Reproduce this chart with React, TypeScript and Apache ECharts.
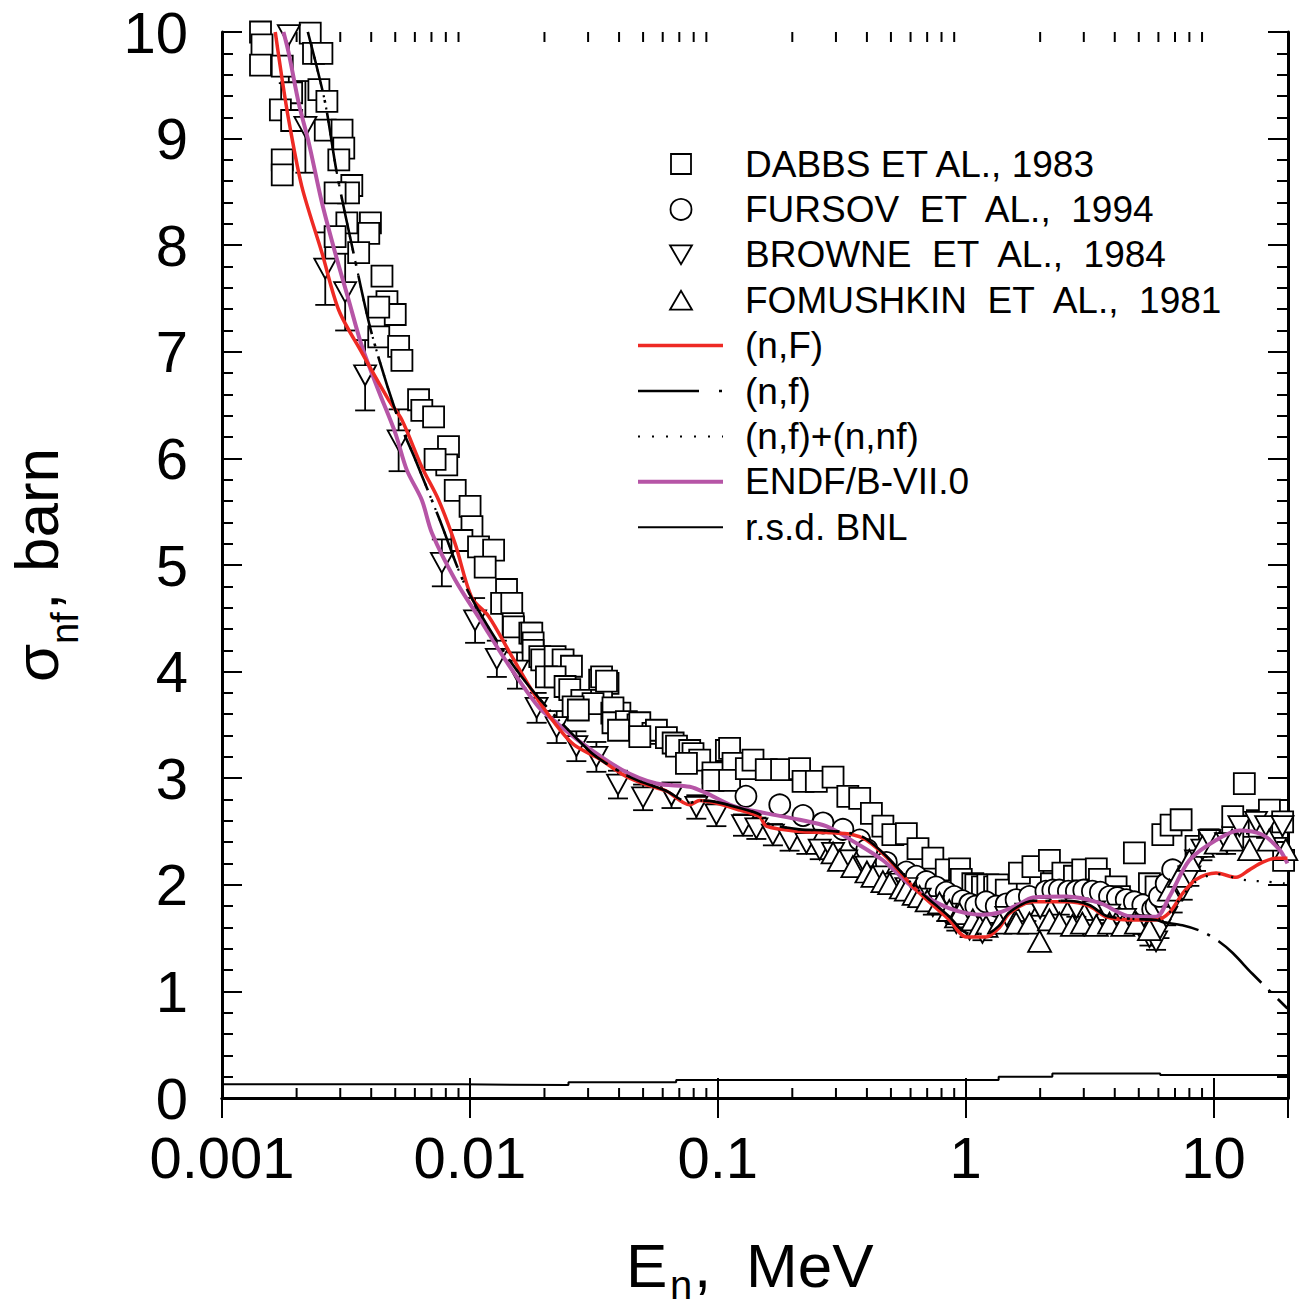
import React, { useEffect, useRef } from "react";
import * as echarts from "echarts";

const FONT = '"Liberation Sans", Arial, Helvetica, sans-serif';

// Axis ranges
const energyMin = 0.001;
const energyMax = 20;
const decadeLabels = ["0.001", "0.01", "0.1", "1", "10"];
const sigmaMin = 0;
const sigmaMax = 10;
const sigmaStep = 1;

// Experimental data: [E (MeV), sigma (barn)]
const dabbs: number[][] = [
  [0.00143, 10.0], [0.00145, 9.88], [0.00227, 9.99], [0.00234, 9.8], [0.00253, 9.8],
  [0.00143, 9.69], [0.00175, 9.68], [0.00246, 9.46], [0.00265, 9.35], [0.00191, 9.43],
  [0.00172, 9.27], [0.00191, 9.17], [0.00261, 9.08], [0.00305, 9.08], [0.0031, 8.91],
  [0.00296, 8.8], [0.00175, 8.8], [0.00175, 8.66], [0.00334, 8.56], [0.00324, 8.49],
  [0.00286, 8.49], [0.00397, 8.21], [0.00391, 8.11], [0.00319, 8.21], [0.00286, 8.08],
  [0.00442, 7.71], [0.00356, 7.93], [0.00463, 7.47], [0.005, 7.35], [0.00429, 7.42],
  [0.00429, 7.14], [0.00516, 7.05], [0.00532, 6.92], [0.00621, 6.55], [0.0064, 6.45],
  [0.00714, 6.39], [0.0082, 6.11], [0.00807, 5.94], [0.00724, 5.99], [0.00873, 5.7],
  [0.01002, 5.55], [0.0102, 5.36], [0.00929, 5.23], [0.01084, 5.17], [0.01247, 5.14],
  [0.01153, 4.98], [0.01406, 4.77], [0.01343, 4.64], [0.01476, 4.64], [0.01495, 4.45],
  [0.015, 4.42], [0.01746, 4.36], [0.01778, 4.36], [0.018, 4.27], [0.018, 4.2],
  [0.01915, 4.14], [0.0195, 4.11], [0.02208, 4.14], [0.02378, 4.11], [0.0257, 4.05],
  [0.02037, 3.95], [0.02208, 3.95], [0.0334, 3.92], [0.034, 3.95], [0.0361, 3.89],
  [0.02422, 3.86], [0.0253, 3.83], [0.0283, 3.73], [0.034, 3.73], [0.0314, 3.7],
  [0.0261, 3.67], [0.0274, 3.64], [0.0374, 3.61], [0.0403, 3.61], [0.0356, 3.91],
  [0.0378, 3.66], [0.0378, 3.52], [0.0428, 3.53], [0.0477, 3.5], [0.0485, 3.52],
  [0.0398, 3.45], [0.0548, 3.42], [0.0566, 3.45], [0.0485, 3.39], [0.0621, 3.38],
  [0.0661, 3.33], [0.0682, 3.3], [0.0771, 3.26], [0.0795, 3.23], [0.0846, 3.17],
  [0.0748, 3.14], [0.0957, 3.05], [0.0957, 2.98], [0.1084, 3.26], [0.1117, 3.28],
  [0.1153, 3.14], [0.1117, 2.98], [0.1305, 3.09], [0.1388, 3.17], [0.157, 3.08],
  [0.181, 3.08], [0.214, 3.09], [0.221, 2.97], [0.25, 2.97], [0.292, 3.01],
  [0.335, 2.83], [0.374, 2.81], [0.417, 2.67], [0.464, 2.55], [0.509, 2.47],
  [0.577, 2.48], [0.643, 2.34], [0.738, 2.25], [0.836, 2.14], [0.946, 2.15],
  [0.961, 2.05], [1.07, 2.01], [1.1, 2.0], [1.17, 1.98], [1.23, 2.0],
  [1.31, 1.98], [1.35, 2.0], [1.46, 1.95], [1.65, 2.11], [1.87, 2.17],
  [2.18, 2.23], [2.22, 2.01], [2.47, 2.11], [2.75, 2.08], [2.97, 2.14],
  [3.37, 2.15], [3.47, 2.05], [4.05, 1.98], [4.18, 1.89], [4.8, 2.3],
  [5.52, 2.01], [5.87, 1.98], [6.25, 2.47], [6.75, 2.56], [7.41, 2.61],
  [8.51, 2.36], [9.64, 2.42], [11.97, 2.45], [11.97, 2.64], [13.33, 2.95],
  [15.31, 2.55], [16.83, 2.7], [19.03, 2.59], [19.2, 2.23],
];

const fursov: number[][] = [
  [0.13, 2.83], [0.178, 2.75], [0.221, 2.65], [0.266, 2.58], [0.32, 2.52],
  [0.374, 2.42], [0.4, 2.33], [0.479, 2.21], [0.577, 2.12], [0.633, 2.08],
  [0.695, 2.03], [0.76, 1.98], [0.836, 1.93], [0.9, 1.89], [0.973, 1.85],
  [1.04, 1.82], [1.1, 1.8], [1.21, 1.84], [1.33, 1.8], [1.46, 1.82],
  [1.6, 1.86], [1.81, 1.89], [2.11, 1.94], [2.25, 1.95], [2.39, 1.95],
  [2.6, 1.94], [2.8, 1.94], [3.0, 1.95], [3.25, 1.94], [3.5, 1.93],
  [3.81, 1.89], [4.1, 1.88], [4.45, 1.86], [4.8, 1.84], [5.19, 1.81],
  [5.69, 1.77], [5.87, 1.8], [6.06, 1.89], [6.45, 2.01], [6.85, 2.14],
];

// [E (MeV), sigma (barn), uncertainty (barn)]
const browne: number[][] = [
  [0.00186, 9.97, 0.45], [0.00217, 9.11, 0.43], [0.00261, 7.78, 0.34], [0.00314, 7.56, 0.36],
  [0.00378, 6.78, 0.33], [0.00516, 6.17, 0.29], [0.00771, 5.02, 0.22], [0.0105, 4.48, 0.21],
  [0.01285, 4.12, 0.17], [0.0155, 4.01, 0.17], [0.0186, 3.66, 0.14], [0.0224, 3.48, 0.15],
  [0.0269, 3.3, 0.14], [0.0324, 3.2, 0.14], [0.0396, 2.94, 0.13], [0.05, 2.82, 0.12],
  [0.0651, 2.84, 0.12], [0.082, 2.73, 0.11], [0.0988, 2.66, 0.11], [0.1265, 2.56, 0.1],
  [0.1432, 2.53, 0.1], [0.167, 2.47, 0.1], [0.195, 2.42, 0.1], [0.228, 2.39, 0.1],
  [0.258, 2.33, 0.09], [0.292, 2.3, 0.09], [0.33, 2.23, 0.09], [0.398, 2.17, 0.09],
  [0.45, 2.08, 0.09], [0.509, 2.01, 0.08], [0.577, 1.97, 0.08], [0.653, 1.87, 0.08],
  [0.738, 1.8, 0.08], [0.836, 1.73, 0.07], [0.918, 1.64, 0.07], [1.038, 1.58, 0.07],
  [1.17, 1.55, 0.07], [1.46, 1.7, 0.07], [1.76, 1.73, 0.07], [2.0, 1.78, 0.07],
  [2.4, 1.8, 0.08], [2.8, 1.78, 0.08], [3.3, 1.75, 0.08], [3.8, 1.72, 0.08],
  [4.4, 1.68, 0.08], [5.0, 1.62, 0.08], [5.52, 1.51, 0.08], [5.87, 1.47, 0.08],
  [6.06, 1.58, 0.08], [6.45, 1.7, 0.08], [6.85, 1.83, 0.09], [7.52, 1.95, 0.09],
  [8.0, 2.08, 0.09], [8.51, 2.23, 0.1], [9.03, 2.33, 0.1], [9.64, 2.42, 0.1],
  [11.25, 2.39, 0.1], [12.73, 2.55, 0.1], [14.86, 2.59, 0.11], [16.32, 2.55, 0.11],
  [19.0, 2.55, 0.11],
];

const fomushkin: number[][] = [
  [0.292, 2.3], [0.31, 2.23], [0.351, 2.17], [0.4, 2.12], [0.423, 2.08],
  [0.464, 2.03], [0.494, 2.01], [0.55, 1.97], [0.577, 1.95], [0.62, 1.91],
  [0.653, 1.89], [0.7, 1.85], [0.785, 1.83], [0.86, 1.76], [0.92, 1.7],
  [0.946, 1.73], [1.07, 1.67], [1.14, 1.61], [1.21, 1.61], [1.37, 1.64],
  [1.6, 1.64], [1.81, 1.64], [1.99, 1.47], [2.18, 1.67], [2.39, 1.64],
  [2.7, 1.62], [2.96, 1.64], [3.37, 1.62], [3.81, 1.64], [4.31, 1.62],
  [4.89, 1.64], [5.52, 1.58], [6.65, 1.95], [7.29, 2.08], [8.0, 2.23],
  [9.03, 2.36], [10.26, 2.39], [11.9, 2.42], [14.0, 2.33], [16.8, 2.42],
  [19.6, 2.33],
];

// Evaluated curves: [E (MeV), sigma (barn)]
const nFCurve: number[][] = [
  [0.00164, 10.0], [0.00175, 9.55], [0.00186, 9.17], [0.0021, 8.55], [0.00253, 7.93],
  [0.00296, 7.39], [0.00367, 6.99], [0.0047, 6.55], [0.00532, 6.36], [0.0064, 5.92],
  [0.00748, 5.61], [0.00872, 5.2], [0.0102, 4.69], [0.0119, 4.52], [0.0148, 4.14],
  [0.0189, 3.73], [0.0258, 3.33], [0.0334, 3.18], [0.041, 3.04], [0.0485, 2.96],
  [0.0566, 2.91], [0.0621, 2.88], [0.0771, 2.75], [0.0846, 2.79], [0.097, 2.77],
  [0.1047, 2.75], [0.1228, 2.7], [0.1476, 2.64], [0.157, 2.55], [0.214, 2.5],
  [0.274, 2.49], [0.351, 2.47], [0.398, 2.42], [0.479, 2.26], [0.633, 1.95],
  [0.861, 1.67], [1.007, 1.51], [1.21, 1.51], [1.37, 1.6], [1.5, 1.73],
  [1.87, 1.84], [2.55, 1.84], [3.16, 1.8], [3.69, 1.7], [4.71, 1.67],
  [5.87, 1.67], [6.65, 1.74], [7.52, 1.92], [8.51, 2.05], [10.26, 2.11],
  [12.35, 2.07], [13.97, 2.14], [15.76, 2.21], [17.91, 2.25], [19.9, 2.25],
];

// (n,f) and (n,f)+(n,nf) coincide below the second-chance threshold
const nfCommon: number[][] = [
  [0.00222, 10.0], [0.0026, 9.35], [0.00291, 8.67], [0.00345, 7.85], [0.00403, 7.16],
  [0.00516, 6.36], [0.006, 6.0], [0.00748, 5.45], [0.0099, 4.74], [0.0162, 3.95],
  [0.0302, 3.26], [0.041, 3.05], [0.0485, 2.97], [0.0621, 2.88], [0.0771, 2.77],
  [0.0846, 2.79], [0.097, 2.78], [0.1228, 2.72], [0.1476, 2.66], [0.157, 2.58],
  [0.214, 2.52], [0.274, 2.51], [0.351, 2.48], [0.398, 2.43], [0.479, 2.27],
  [0.633, 1.97], [0.861, 1.7], [1.007, 1.55], [1.21, 1.54], [1.37, 1.62],
  [1.5, 1.74], [1.87, 1.85], [2.55, 1.85], [3.16, 1.81], [3.69, 1.71],
  [4.71, 1.68], [5.87, 1.67],
];
const nfTail: number[][] = [
  [6.25, 1.65], [7.5, 1.62], [9.03, 1.56], [10.5, 1.47], [11.97, 1.36], [14.3, 1.17], [19.9, 0.84],
];
const nfNnfTail: number[][] = [
  [6.65, 1.74], [7.52, 1.9], [8.51, 2.03], [10.26, 2.1], [11.25, 2.09], [12.35, 2.06],
  [14.0, 2.04], [16.3, 2.03], [19.9, 2.01],
];

const endfCurve: number[][] = [
  [0.00177, 10.0], [0.00186, 9.8], [0.00204, 9.33], [0.00224, 8.96], [0.00253, 8.4],
  [0.00286, 7.93], [0.00324, 7.49], [0.00367, 7.05], [0.00429, 6.63], [0.005, 6.24],
  [0.00557, 5.89], [0.0064, 5.61], [0.00703, 5.3], [0.00873, 4.86], [0.0112, 4.46],
  [0.0139, 4.11], [0.0189, 3.67], [0.0224, 3.52], [0.0283, 3.33], [0.041, 3.08],
  [0.0566, 2.95], [0.0771, 2.92], [0.09, 2.86], [0.1153, 2.74], [0.157, 2.67],
  [0.214, 2.61], [0.274, 2.55], [0.351, 2.41], [0.464, 2.23], [0.633, 1.95],
  [0.861, 1.78], [1.17, 1.72], [1.37, 1.74], [1.65, 1.82], [1.87, 1.88],
  [2.55, 1.89], [3.47, 1.83], [4.71, 1.7], [5.87, 1.7], [6.65, 1.89],
  [8.0, 2.23], [10.26, 2.42], [12.73, 2.51], [15.76, 2.47], [18.47, 2.33],
  [19.9, 2.2],
];

// Relative standard deviation (barn scale), held constant over each energy group
const rsdBnl: number[][] = [
  [0.001, 0.128], [0.0093, 0.122], [0.025, 0.147], [0.068, 0.169],
  [1.36, 0.2], [2.24, 0.23], [6.1, 0.216], [20, 0.216],
];

const legendLabels = [
  "DABBS ET AL., 1983",
  "FURSOV  ET  AL.,  1994",
  "BROWNE  ET  AL.,  1984",
  "FOMUSHKIN  ET  AL.,  1981",
  "(n,F)",
  "(n,f)",
  "(n,f)+(n,nf)",
  "ENDF/B-VII.0",
  "r.s.d. BNL",
];

const RED = "#ee2a24";
const PURPLE = "#b655a6";
const NF_DASH = [60, 10, 3, 10];
const DOT_DASH = [2, 11];

function minorTickValues(): number[][] {
  const out: number[][] = [];
  for (let p = -3; p <= 1; p++) {
    for (let m = 2; m <= 9; m++) {
      const v = m * Math.pow(10, p);
      if (v < energyMax) out.push([v, sigmaMin]);
    }
  }
  return out;
}

function formatDecade(v: number): string {
  const l = Math.log10(v);
  const r = Math.round(l);
  if (Math.abs(l - r) > 1e-6) return "";
  const idx = r + 3;
  return idx >= 0 && idx < decadeLabels.length ? decadeLabels[idx] : "";
}

function buildLegend(): any[] {
  const rowY0 = 164;
  const rowStep = 45.4;
  const symX = 681;
  const lineX1 = 638;
  const lineX2 = 723;
  const textX = 745;
  const els: any[] = [];
  const stroke = { stroke: "#000", lineWidth: 1.8, fill: "#fff" };
  legendLabels.forEach((label, i) => {
    const y = rowY0 + i * rowStep;
    els.push({
      type: "text",
      x: textX,
      y: y,
      style: { text: label, font: `37px ${FONT}`, fill: "#000", align: "left", verticalAlign: "middle" },
    });
    if (i === 0) {
      els.push({ type: "rect", shape: { x: symX - 10, y: y - 10, width: 20, height: 20 }, style: stroke });
    } else if (i === 1) {
      els.push({ type: "circle", shape: { cx: symX, cy: y, r: 10.5 }, style: stroke });
    } else if (i === 2) {
      els.push({ type: "polygon", shape: { points: [[symX - 11, y - 9.5], [symX + 11, y - 9.5], [symX, y + 9.5]] }, style: stroke });
    } else if (i === 3) {
      els.push({ type: "polygon", shape: { points: [[symX - 11, y + 9.5], [symX + 11, y + 9.5], [symX, y - 9.5]] }, style: stroke });
    } else {
      const styles: any[] = [
        { stroke: RED, lineWidth: 3.5 },
        { stroke: "#000", lineWidth: 2.5, lineDash: [61, 20, 3, 30] },
        { stroke: "#000", lineWidth: 2, lineDash: [2, 12] },
        { stroke: PURPLE, lineWidth: 4 },
        { stroke: "#000", lineWidth: 2 },
      ];
      els.push({ type: "line", shape: { x1: lineX1, y1: y, x2: lineX2, y2: y }, style: styles[i - 4] });
    }
  });
  return els;
}

function buildTitles(): any[] {
  const txt = (text: string, x: number, y: number, size: number) => ({
    type: "text",
    x,
    y,
    style: { text, font: `${size}px ${FONT}`, fill: "#000", align: "left", verticalAlign: "middle" },
  });
  // x title: baseline near 1287, subscript baseline near 1300
  const xTitle = {
    type: "group",
    children: [
      txt("E", 626, 1265, 62),
      txt("n", 670, 1285, 40),
      txt(",", 694, 1265, 62),
      txt("MeV", 746, 1265, 62),
    ],
  };
  // y title drawn along the vertical, reading upward
  const yTitle = {
    type: "group",
    x: 0,
    y: 682,
    rotation: Math.PI / 2,
    children: [
      txt("\u03c3", 0, 36, 62),
      txt("nf", 38, 65, 38),
      txt(",", 72, 36, 62),
      txt("barn", 110, 36, 62),
    ],
  };
  return [xTitle, yTitle];
}

export default function App() {
  const ref = useRef<HTMLDivElement>(null);
  useEffect(() => {
    if (!ref.current) return;
    const chart = echarts.init(ref.current, undefined, { renderer: "svg" });
    const axisLine = { show: true, lineStyle: { color: "#000", width: 3 } };
    const tick = { show: true, inside: true, length: 20, lineStyle: { color: "#000", width: 2 } };
    const minorY = { show: true, splitNumber: 5, length: 11, lineStyle: { color: "#000", width: 2 } };
    const labelFont = { fontSize: 58, fontFamily: FONT, color: "#000" };
    const scatterBase = {
      type: "scatter",
      xAxisIndex: 0,
      yAxisIndex: 0,
      emphasis: { disabled: true },
      itemStyle: { color: "#fff", borderColor: "#000", borderWidth: 1.8, opacity: 1 },
      z: 2,
    };
    const lineBase = {
      type: "line",
      xAxisIndex: 0,
      yAxisIndex: 0,
      showSymbol: false,
      symbol: "none",
      emphasis: { disabled: true },
      smooth: 0.3,
      z: 4,
    };
    const option: any = {
      animation: false,
      backgroundColor: "#fff",
      grid: { left: 222, right: 12, top: 32, bottom: 208, containLabel: false },
      xAxis: [
        {
          type: "log",
          logBase: 10,
          min: energyMin,
          max: energyMax,
          position: "bottom",
          axisLine,
          axisTick: tick,
          splitLine: { show: false },
          axisLabel: { ...labelFont, margin: 30, formatter: formatDecade, showMaxLabel: false },
        },
        {
          type: "log",
          logBase: 10,
          min: energyMin,
          max: energyMax,
          position: "top",
          axisLine,
          axisTick: tick,
          splitLine: { show: false },
          axisLabel: { show: false },
        },
      ],
      yAxis: [
        {
          type: "value",
          min: sigmaMin,
          max: sigmaMax,
          interval: sigmaStep,
          position: "left",
          axisLine,
          axisTick: tick,
          minorTick: minorY,
          splitLine: { show: false },
          axisLabel: { ...labelFont, margin: 34 },
        },
        {
          type: "value",
          min: sigmaMin,
          max: sigmaMax,
          interval: sigmaStep,
          position: "right",
          axisLine,
          axisTick: tick,
          minorTick: minorY,
          splitLine: { show: false },
          axisLabel: { show: false },
        },
      ],
      series: [
        {
          // minor energy ticks (2..9 per decade) on bottom and top frame
          type: "custom",
          xAxisIndex: 0,
          yAxisIndex: 0,
          silent: true,
          clip: false,
          z: 5,
          data: minorTickValues(),
          encode: { x: 0, y: 1 },
          renderItem: (_p: any, api: any) => {
            const v = api.value(0);
            const b = api.coord([v, sigmaMin]);
            const t = api.coord([v, sigmaMax]);
            const st = { stroke: "#000", lineWidth: 2 };
            return {
              type: "group",
              children: [
                { type: "line", shape: { x1: b[0], y1: b[1], x2: b[0], y2: b[1] - 10 }, style: st },
                { type: "line", shape: { x1: t[0], y1: t[1], x2: t[0], y2: t[1] + 10 }, style: st },
              ],
            };
          },
        },
        { ...scatterBase, name: legendLabels[0], symbol: "rect", symbolSize: 21, data: dabbs },
        { ...scatterBase, name: legendLabels[1], symbol: "circle", symbolSize: 21, data: fursov },
        {
          // Browne uncertainties
          type: "custom",
          xAxisIndex: 0,
          yAxisIndex: 0,
          silent: true,
          clip: true,
          z: 2,
          data: browne,
          encode: { x: 0, y: 1 },
          renderItem: (_p: any, api: any) => {
            const x = api.value(0);
            const y = api.value(1);
            const e = api.value(2);
            const lo = api.coord([x, y - e]);
            const hi = api.coord([x, y + e]);
            const st = { stroke: "#000", lineWidth: 1.8 };
            const cap = 10;
            return {
              type: "group",
              children: [
                { type: "line", shape: { x1: lo[0], y1: lo[1], x2: hi[0], y2: hi[1] }, style: st },
                { type: "line", shape: { x1: lo[0] - cap, y1: lo[1], x2: lo[0] + cap, y2: lo[1] }, style: st },
                { type: "line", shape: { x1: hi[0] - cap, y1: hi[1], x2: hi[0] + cap, y2: hi[1] }, style: st },
              ],
            };
          },
        },
        {
          ...scatterBase,
          name: legendLabels[2],
          symbol: "triangle",
          symbolRotate: 180,
          symbolSize: [22, 20],
          data: browne.map((d) => [d[0], d[1]]),
        },
        { ...scatterBase, name: legendLabels[3], symbol: "triangle", symbolSize: [23, 21], data: fomushkin },
        {
          ...lineBase,
          name: legendLabels[7],
          data: endfCurve,
          lineStyle: { color: PURPLE, width: 4 },
        },
        {
          ...lineBase,
          name: legendLabels[4],
          data: nFCurve,
          lineStyle: { color: RED, width: 3.5 },
        },
        {
          ...lineBase,
          name: legendLabels[6],
          data: [...nfCommon, ...nfNnfTail],
          lineStyle: { color: "#000", width: 2.2, type: DOT_DASH },
        },
        {
          ...lineBase,
          name: legendLabels[5],
          data: [...nfCommon, ...nfTail],
          lineStyle: { color: "#000", width: 2.6, type: NF_DASH },
        },
        {
          ...lineBase,
          name: legendLabels[8],
          smooth: false,
          step: "end",
          data: rsdBnl,
          lineStyle: { color: "#000", width: 2 },
        },
      ],
      graphic: [...buildLegend(), ...buildTitles()],
    };
    chart.setOption(option);
    return () => chart.dispose();
  }, []);
  return (
    <div
      ref={ref}
      style={{ position: "absolute", left: 0, top: 0, width: 1300, height: 1306, background: "#fff" }}
    />
  );
}
